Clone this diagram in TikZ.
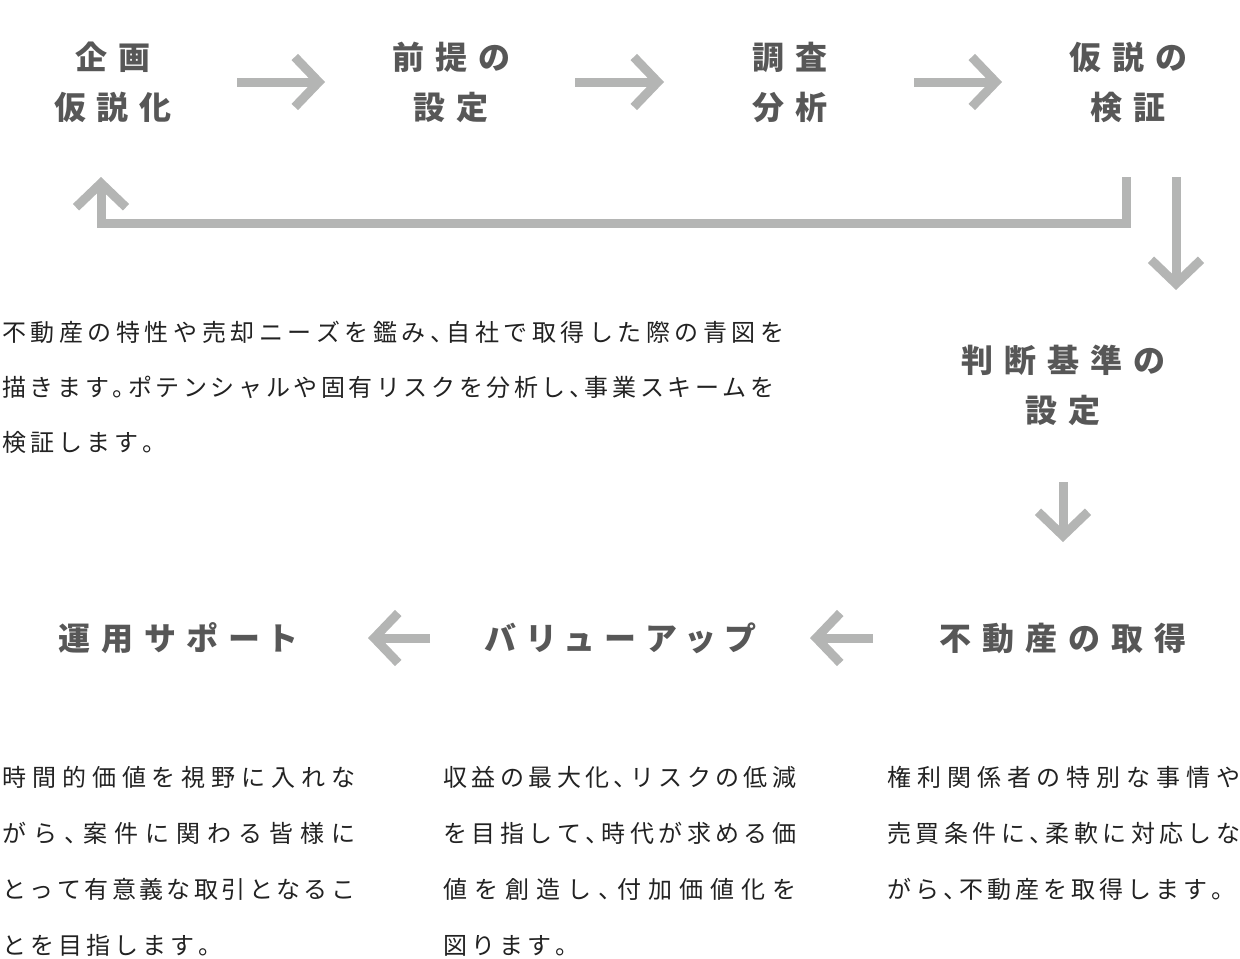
\documentclass[tikz,border=0pt]{standalone}
\usepackage{fontspec}
\usetikzlibrary{arrows.meta}
\newfontfamily\headfont{Noto Sans CJK JP}[RawFeature=+palt]
\newfontfamily\bodyfont{Noto Sans CJK JP}[RawFeature=+halt]
\definecolor{headgray}{HTML}{575757}
\definecolor{bodyink}{HTML}{222222}
\definecolor{arrowgray}{HTML}{B4B5B4}
% spacing between CJK letters (letter-spacing / justified lines)
\newskip\chargap
\foreach \i in {0,...,3}{\foreach \j in {0,...,3}{\global\XeTeXinterchartoks\i\space\j={\hskip\chargap}}}
\newcommand{\headset}{\headfont\bfseries\fontsize{16}{25}\selectfont\chargap=5.5pt\relax\XeTeXinterchartokenstate=1\relax}
\newcommand{\bodyset}[1]{\bodyfont\fontsize{12}{#1}\selectfont\chargap=2pt\relax\XeTeXinterchartokenstate=1\relax}
\newcommand{\jline}[2]{\makebox[#1][s]{\chargap=2pt plus 1fil minus 1fil\relax #2}}
\tikzset{
  head/.style={font=\headset,text=headgray,align=center,inner sep=0pt},
  body/.style={font={\bodyset{#1}},text=bodyink,align=left,inner sep=0pt,anchor=base west},
  body/.default=28,
  flow/.style={draw=arrowgray,line width=4.5pt,-{Straight Barb[length=12pt,width=25pt]}},
  stepflow/.style={flow,shorten <=62pt,shorten >=63pt},
  backflow/.style={flow,shorten <=95pt,shorten >=95pt}
}
\begin{document}
\begin{tikzpicture}[x=0.5pt,y=-0.5pt]
\path[use as bounding box] (0,0) rectangle (1240,958);
% planning cycle
\node[head] (plan) at (113,82) {企画\\仮説化};
\node[head] (premise) at (451,82) {前提の\\設定};
\node[head] (survey) at (790,82) {調査\\分析};
\node[head] (verify) at (1128,82) {仮説の\\検証};
\draw[stepflow] (plan.center) -- (premise.center);
\draw[stepflow] (premise.center) -- (survey.center);
\draw[stepflow] (survey.center) -- (verify.center);
\draw[flow] ([xshift=-1pt,yshift=-47.5pt]verify.center) -- ++(0,46) -| ([xshift=-6pt,yshift=-47.5pt]plan.center);
% base anchor = baseline of the last line
\node[body=27.5] (intro) at (2,451) {\jline{391pt}{不動産の特性や売却ニーズを鑑み、自社で取得した際の青図を}\\\jline{386pt}{描きます。ポテンシャルや固有リスクを分析し、事業スキームを}\\検証します。};
% decision
\node[head] (criteria) at (1063,385) {判断基準の\\設定};
\draw[flow] ([xshift=24pt,yshift=-47.5pt]verify.center) -- ([xshift=56.5pt,yshift=47.5pt]criteria.center);
% acquisition and after
\node[head] (acquire) at (1063,638) {不動産の取得};
\node[head] (valueup) at (620,638) {バリューアップ};
\node[head] (support) at (178,638) {運用サポート};
\draw[flow,shorten <=48.5pt,shorten >=48pt] (criteria.center) -- (acquire.center);
\draw[backflow] (acquire.center) -- (valueup.center);
\draw[backflow] (valueup.center) -- (support.center);
\node[body] (supporttxt) at (2,954) {\jline{176.5pt}{時間的価値を視野に入れな}\\\jline{176.5pt}{がら、案件に関わる皆様に}\\\jline{176.5pt}{とって有意義な取引となるこ}\\とを目指します。};
\node[body] (valueuptxt) at (443,954) {\jline{176.5pt}{収益の最大化、リスクの低減}\\\jline{176.5pt}{を目指して、時代が求める価}\\\jline{176.5pt}{値を創造し、付加価値化を}\\図ります。};
\node[body] (acquiretxt) at (887,898) {\jline{176.5pt}{権利関係者の特別な事情や}\\\jline{176.5pt}{売買条件に、柔軟に対応しな}\\がら、不動産を取得します。};
\end{tikzpicture}
\end{document}
